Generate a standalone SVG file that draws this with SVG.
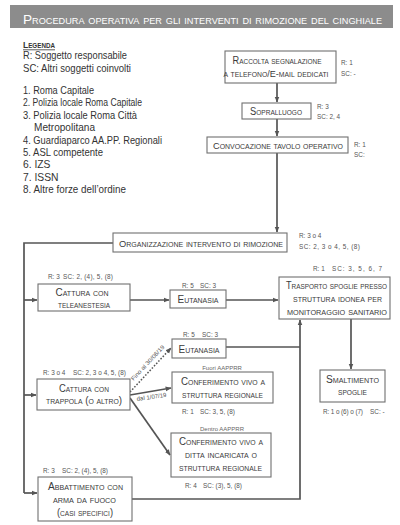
<svg xmlns="http://www.w3.org/2000/svg" width="400" height="525" viewBox="0 0 400 525">
<defs>
<marker id="ah" viewBox="0 0 10 10" refX="9" refY="5" markerWidth="6" markerHeight="6" orient="auto" markerUnits="userSpaceOnUse">
<path d="M0,1 L10,5 L0,9 z" fill="#555"/>
</marker>
<style>
.box{fill:#fff;stroke:#707070;stroke-width:1.1}
.sc{font-family:"Liberation Sans",Arial,sans-serif;font-variant:small-caps;font-size:10px;fill:#3a3a3a;text-anchor:middle}
.lg{font-family:"Liberation Sans",Arial,sans-serif;font-size:10.3px;fill:#333}
.rs{font-family:"Liberation Sans",Arial,sans-serif;font-size:6.4px;fill:#555}
.sm{font-family:"Liberation Sans",Arial,sans-serif;font-size:6px;fill:#666;text-anchor:middle}
.ln{fill:none;stroke:#555;stroke-width:1.7}
</style>
</defs>
<rect width="400" height="525" fill="#fff"/>
<g id="title">
<rect x="10" y="5" width="383" height="23" fill="#8c8c8c"/>
<text x="23" y="24" style="font-family:'Liberation Sans',Arial,sans-serif;font-variant:small-caps;font-size:13.4px;fill:#fff" textLength="359" lengthAdjust="spacingAndGlyphs">Procedura operativa per gli interventi di rimozione del cinghiale</text>
</g>
<g id="legend">
<text x="23" y="48" style="font-family:'Liberation Sans',Arial,sans-serif;font-variant:small-caps;font-size:9.5px;font-weight:bold;fill:#333" textLength="32" lengthAdjust="spacingAndGlyphs">Legenda</text>
<line x1="23" y1="49.8" x2="55" y2="49.8" stroke="#333" stroke-width="0.8"/>
<text class="lg" x="23" y="59" textLength="104" lengthAdjust="spacingAndGlyphs">R: Soggetto responsabile</text>
<text class="lg" x="23" y="72" textLength="108" lengthAdjust="spacingAndGlyphs">SC: Altri soggetti coinvolti</text>
<text class="lg" x="23" y="94" textLength="71" lengthAdjust="spacingAndGlyphs">1. Roma Capitale</text>
<text class="lg" x="23" y="106.4" textLength="119" lengthAdjust="spacingAndGlyphs">2. Polizia locale Roma Capitale</text>
<text class="lg" x="23" y="118.8" textLength="114" lengthAdjust="spacingAndGlyphs">3. Polizia locale Roma Città</text>
<text class="lg" x="34" y="131.2" textLength="61" lengthAdjust="spacingAndGlyphs">Metropolitana</text>
<text class="lg" x="23" y="143.6" textLength="139" lengthAdjust="spacingAndGlyphs">4. Guardiaparco AA.PP. Regionali</text>
<text class="lg" x="23" y="156" textLength="80" lengthAdjust="spacingAndGlyphs">5. ASL competente</text>
<text class="lg" x="23" y="168.4">6. IZS</text>
<text class="lg" x="23" y="180.8">7. ISSN</text>
<text class="lg" x="23" y="193.2" textLength="103" lengthAdjust="spacingAndGlyphs">8. Altre forze dell’ordine</text>
</g>
<g id="connectors">
<line class="ln" x1="277" y1="83" x2="277" y2="102" marker-end="url(#ah)"/>
<line class="ln" x1="277" y1="119" x2="277" y2="136" marker-end="url(#ah)"/>
<line class="ln" x1="277" y1="153" x2="277" y2="232" marker-end="url(#ah)"/>
<polyline class="ln" points="113,243 24,243 24,493"/>
<line class="ln" x1="24" y1="300" x2="37" y2="300" marker-end="url(#ah)"/>
<line class="ln" x1="24" y1="395" x2="36" y2="395" marker-end="url(#ah)"/>
<line class="ln" x1="24" y1="493" x2="37" y2="493" marker-end="url(#ah)"/>
<line class="ln" x1="130" y1="300" x2="169" y2="300" marker-end="url(#ah)"/>
<line class="ln" x1="226" y1="300" x2="278" y2="300" marker-end="url(#ah)"/>
<line class="ln" x1="351" y1="319" x2="351" y2="369" marker-end="url(#ah)"/>
<polyline class="ln" points="226,347 300,347"/>
<polyline class="ln" points="132,499 300,499 300,320" marker-end="url(#ah)"/>
<line x1="130" y1="392" x2="171" y2="348" stroke="#555" stroke-width="1.5" stroke-dasharray="1.6 1.6" marker-end="url(#ah)"/>
<line class="ln" x1="130" y1="395" x2="171" y2="388" marker-end="url(#ah)"/>
<line class="ln" x1="130" y1="398" x2="170" y2="455" marker-end="url(#ah)"/>
<text class="rs" transform="translate(133.5,381) rotate(-47)" style="font-size:5.8px" textLength="46" lengthAdjust="spacingAndGlyphs">Fino al 30/06/19</text>
<text class="rs" transform="translate(137,401) rotate(-8)" style="font-size:6px" textLength="30" lengthAdjust="spacingAndGlyphs">dal 1/07/19</text>
</g>
<g id="raccolta">
<rect class="box" x="225" y="51" width="111" height="32"/>
<text class="sc" x="277" y="64" textLength="89" lengthAdjust="spacingAndGlyphs">Raccolta segnalazione</text>
<text class="sc" x="276" y="77" style="font-size:9.3px" textLength="105" lengthAdjust="spacingAndGlyphs">a telefono/E-mail dedicati</text>
<text class="rs" x="341" y="65">R: 1</text>
<text class="rs" x="341" y="75.5">SC: -</text>
</g>
<g id="sopralluogo">
<rect class="box" x="242" y="103" width="69" height="16"/>
<text class="sc" x="276" y="115" textLength="52" lengthAdjust="spacingAndGlyphs">Sopralluogo</text>
<text class="rs" x="317" y="109">R: 3</text>
<text class="rs" x="317" y="119">SC: 2, 4</text>
</g>
<g id="convocazione">
<rect class="box" x="207" y="137" width="141" height="16"/>
<text class="sc" x="278" y="149" style="font-size:9.3px" textLength="130" lengthAdjust="spacingAndGlyphs">Convocazione tavolo operativo</text>
<text class="rs" x="354" y="147">R: 1</text>
<text class="rs" x="354" y="157">SC:</text>
</g>
<g id="organizzazione">
<rect class="box" x="113" y="233" width="174" height="19"/>
<text class="sc" x="201" y="246.5" style="font-size:9.3px" textLength="164" lengthAdjust="spacingAndGlyphs">Organizzazione intervento di rimozione</text>
<text class="rs" x="299" y="238">R: 3 o 4</text>
<text class="rs" x="299" y="248.5" textLength="61" lengthAdjust="spacing">SC: 2, 3 o 4, 5, (8)</text>
</g>
<g id="teleanestesia">
<rect class="box" x="38" y="284" width="92" height="27"/>
<text class="sc" x="82" y="296" textLength="53" lengthAdjust="spacingAndGlyphs">Cattura con</text>
<text class="sc" x="84" y="308" textLength="52" lengthAdjust="spacingAndGlyphs">teleanestesia</text>
<text class="rs" x="48" y="279">R: 3</text>
<text class="rs" x="63" y="279" textLength="50" lengthAdjust="spacing">SC: 2, (4), 5, (8)</text>
</g>
<g id="eutanasia1">
<rect class="box" x="170" y="290" width="56" height="18"/>
<text class="sc" x="198" y="302.5" textLength="41" lengthAdjust="spacingAndGlyphs">Eutanasia</text>
<text class="rs" x="182" y="288">R: 5</text>
<text class="rs" x="200" y="288">SC: 3</text>
</g>
<g id="trasporto">
<rect class="box" x="279" y="277" width="111" height="42"/>
<text class="sc" x="336.5" y="289" textLength="101" lengthAdjust="spacingAndGlyphs">Trasporto spoglie presso</text>
<text class="sc" x="337.5" y="302" textLength="89" lengthAdjust="spacingAndGlyphs">struttura idonea per</text>
<text class="sc" x="337" y="315" textLength="100" lengthAdjust="spacingAndGlyphs">monitoraggio sanitario</text>
<text class="rs" x="313" y="271">R: 1</text>
<text class="rs" x="332" y="271" textLength="50" lengthAdjust="spacing">SC: 3, 5, 6, 7</text>
</g>
<g id="eutanasia2">
<rect class="box" x="172" y="339" width="54" height="19"/>
<text class="sc" x="199" y="352.5" textLength="41" lengthAdjust="spacingAndGlyphs">Eutanasia</text>
<text class="rs" x="183" y="337">R: 5</text>
<text class="rs" x="202" y="337">SC: 3</text>
</g>
<g id="trappola">
<rect class="box" x="37" y="379" width="93" height="31"/>
<text class="sc" x="84" y="392" textLength="50" lengthAdjust="spacingAndGlyphs">Cattura con</text>
<text class="sc" x="84" y="404" textLength="76" lengthAdjust="spacingAndGlyphs">trappola (o altro)</text>
<text class="rs" x="43" y="375">R: 3 o 4</text>
<text class="rs" x="73" y="375" textLength="53" lengthAdjust="spacing">SC: 2, 3 o 4, 5, (8)</text>
</g>
<g id="conferimento1">
<text class="sm" x="222" y="370">Fuori AAPPRR</text>
<rect class="box" x="172" y="372" width="101" height="31"/>
<text class="sc" x="223" y="385" textLength="84" lengthAdjust="spacingAndGlyphs">Conferimento vivo a</text>
<text class="sc" x="222.5" y="398" textLength="81" lengthAdjust="spacingAndGlyphs">struttura regionale</text>
<text class="rs" x="182" y="414">R: 1</text>
<text class="rs" x="200" y="414" textLength="35" lengthAdjust="spacing">SC: 3, 5, (8)</text>
</g>
<g id="conferimento2">
<text class="sm" x="222" y="431">Dentro AAPPRR</text>
<rect class="box" x="171" y="433" width="100" height="44"/>
<text class="sc" x="221" y="445" textLength="84" lengthAdjust="spacingAndGlyphs">Conferimento vivo a</text>
<text class="sc" x="221" y="458" textLength="72" lengthAdjust="spacingAndGlyphs">ditta incaricata o</text>
<text class="sc" x="220.5" y="471" textLength="83" lengthAdjust="spacingAndGlyphs">struttura regionale</text>
<text class="rs" x="185" y="488">R: 4</text>
<text class="rs" x="203" y="488" textLength="39" lengthAdjust="spacing">SC: (3), 5, (8)</text>
</g>
<g id="smaltimento">
<rect class="box" x="320" y="370" width="65" height="32"/>
<text class="sc" x="352.5" y="383" textLength="53" lengthAdjust="spacingAndGlyphs">Smaltimento</text>
<text class="sc" x="352.5" y="395" textLength="29" lengthAdjust="spacingAndGlyphs">spoglie</text>
<text class="rs" x="323" y="414" textLength="40" lengthAdjust="spacing">R: 1 o (6) o (7)</text>
<text class="rs" x="370" y="414">SC: -</text>
</g>
<g id="abbattimento">
<rect class="box" x="38" y="477" width="94" height="44"/>
<text class="sc" x="85.5" y="490" textLength="75" lengthAdjust="spacingAndGlyphs">Abbattimento con</text>
<text class="sc" x="84.5" y="503" textLength="63" lengthAdjust="spacingAndGlyphs">arma da fuoco</text>
<text class="sc" x="85" y="515.5" textLength="56" lengthAdjust="spacingAndGlyphs">(casi specifici)</text>
<text class="rs" x="43" y="473">R: 3</text>
<text class="rs" x="62" y="473" textLength="46" lengthAdjust="spacing">SC: 2, (4), 5, (8)</text>
</g>
</svg>
